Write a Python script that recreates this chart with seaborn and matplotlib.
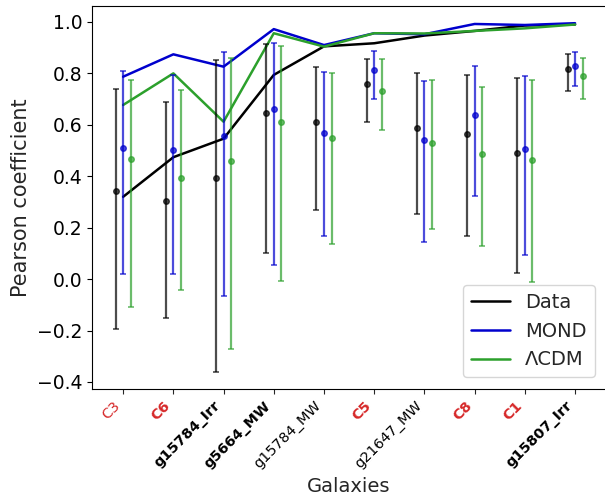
import numpy as np
import pandas as pd
import matplotlib
matplotlib.use("Agg")
import matplotlib.pyplot as plt
import seaborn as sns

# galaxies on the x axis, with label colour / weight
galaxies = ["C3", "C6", "g15784_Irr", "g5664_MW", "g15784_MW",
            "C5", "g21647_MW", "C8", "C1", "g15807_Irr"]
label_colors = ["tab:red", "tab:red", "black", "black", "black",
                "tab:red", "black", "tab:red", "tab:red", "black"]
label_weights = ["normal", "bold", "bold", "bold", "normal",
                 "bold", "normal", "bold", "bold", "bold"]

# lines (per-galaxy curves)
data_line = [0.32, 0.474, 0.546, 0.794, 0.905, 0.917, 0.947, 0.965, 0.986, 0.99]
mond_line = [0.787, 0.874, 0.826, 0.972, 0.91, 0.956, 0.952, 0.992, 0.988, 0.995]
lcdm_line = [0.677, 0.80, 0.612, 0.956, 0.904, 0.956, 0.955, 0.965, 0.975, 0.99]

# points with lower / upper bounds
data_pt = [0.342, 0.305, 0.392, 0.645, 0.61, 0.759, 0.586, 0.564, 0.49, 0.816]
data_lo = [-0.195, -0.153, -0.361, 0.102, 0.267, 0.612, 0.252, 0.168, 0.025, 0.733]
data_hi = [0.738, 0.69, 0.852, 0.916, 0.825, 0.855, 0.80, 0.794, 0.783, 0.877]

mond_pt = [0.511, 0.502, 0.556, 0.66, 0.567, 0.813, 0.54, 0.637, 0.507, 0.828]
mond_lo = [0.021, 0.019, -0.064, 0.053, 0.166, 0.702, 0.145, 0.324, 0.092, 0.752]
mond_hi = [0.809, 0.792, 0.882, 0.917, 0.807, 0.887, 0.772, 0.83, 0.79, 0.884]

lcdm_pt = [0.466, 0.392, 0.459, 0.61, 0.549, 0.733, 0.528, 0.488, 0.463, 0.789]
lcdm_lo = [-0.109, -0.041, -0.272, -0.007, 0.135, 0.58, 0.193, 0.127, -0.013, 0.70]
lcdm_hi = [0.773, 0.735, 0.861, 0.908, 0.803, 0.855, 0.774, 0.746, 0.773, 0.861]

sns.set_style("ticks")
plt.rcParams["font.family"] = ["DejaVu Sans"]

fig = plt.figure(figsize=(6.05, 4.98), dpi=100)
ax = fig.add_axes([92 / 605, 0.219, 1 - 92 / 605 + 0.002, 0.769])

x = np.arange(len(galaxies))
lines = pd.DataFrame({
    "x": np.tile(x, 3),
    "r": data_line + mond_line + lcdm_line,
    "model": ["Data"] * 10 + ["MOND"] * 10 + ["\u039bCDM"] * 10,
})
sns.lineplot(data=lines, x="x", y="r", hue="model", ax=ax, lw=1.8,
             palette={"Data": "black", "MOND": "mediumblue", "\u039bCDM": "#2ca02c"})

for off, pt, lo, hi, col in [(-0.15, data_pt, data_lo, data_hi, "black"),
                             (0.0, mond_pt, mond_lo, mond_hi, "mediumblue"),
                             (0.15, lcdm_pt, lcdm_lo, lcdm_hi, "#2ca02c")]:
    pt, lo, hi = np.array(pt), np.array(lo), np.array(hi)
    ax.errorbar(x + off, pt, yerr=[pt - lo, hi - pt], fmt="o", color=col,
                ms=4, capsize=2.5, elinewidth=1.6, capthick=1.2, alpha=0.7)

ax.set_xlim(-0.62, 9.62)
ax.set_ylim(-0.427, 1.062)
ax.set_yticks([-0.4, -0.2, 0.0, 0.2, 0.4, 0.6, 0.8, 1.0])
ax.tick_params(axis="y", labelsize=13.5, colors="black")
ax.set_xticks(x)
ax.set_xticklabels(galaxies, rotation=45, ha="right", fontsize=10.4)
for t, c, w in zip(ax.get_xticklabels(), label_colors, label_weights):
    t.set_color(c)
    t.set_fontweight(w)
for s in ax.spines.values():
    s.set_color("black")
ax.set_xlabel("Galaxies", fontsize=14)
ax.set_ylabel("Pearson coefficient", fontsize=15)
ax.legend(loc="lower right", fontsize=14, borderaxespad=0.6,
          handlelength=2.0, framealpha=0.8, title=None)

fig.savefig("out.png", dpi=100)
